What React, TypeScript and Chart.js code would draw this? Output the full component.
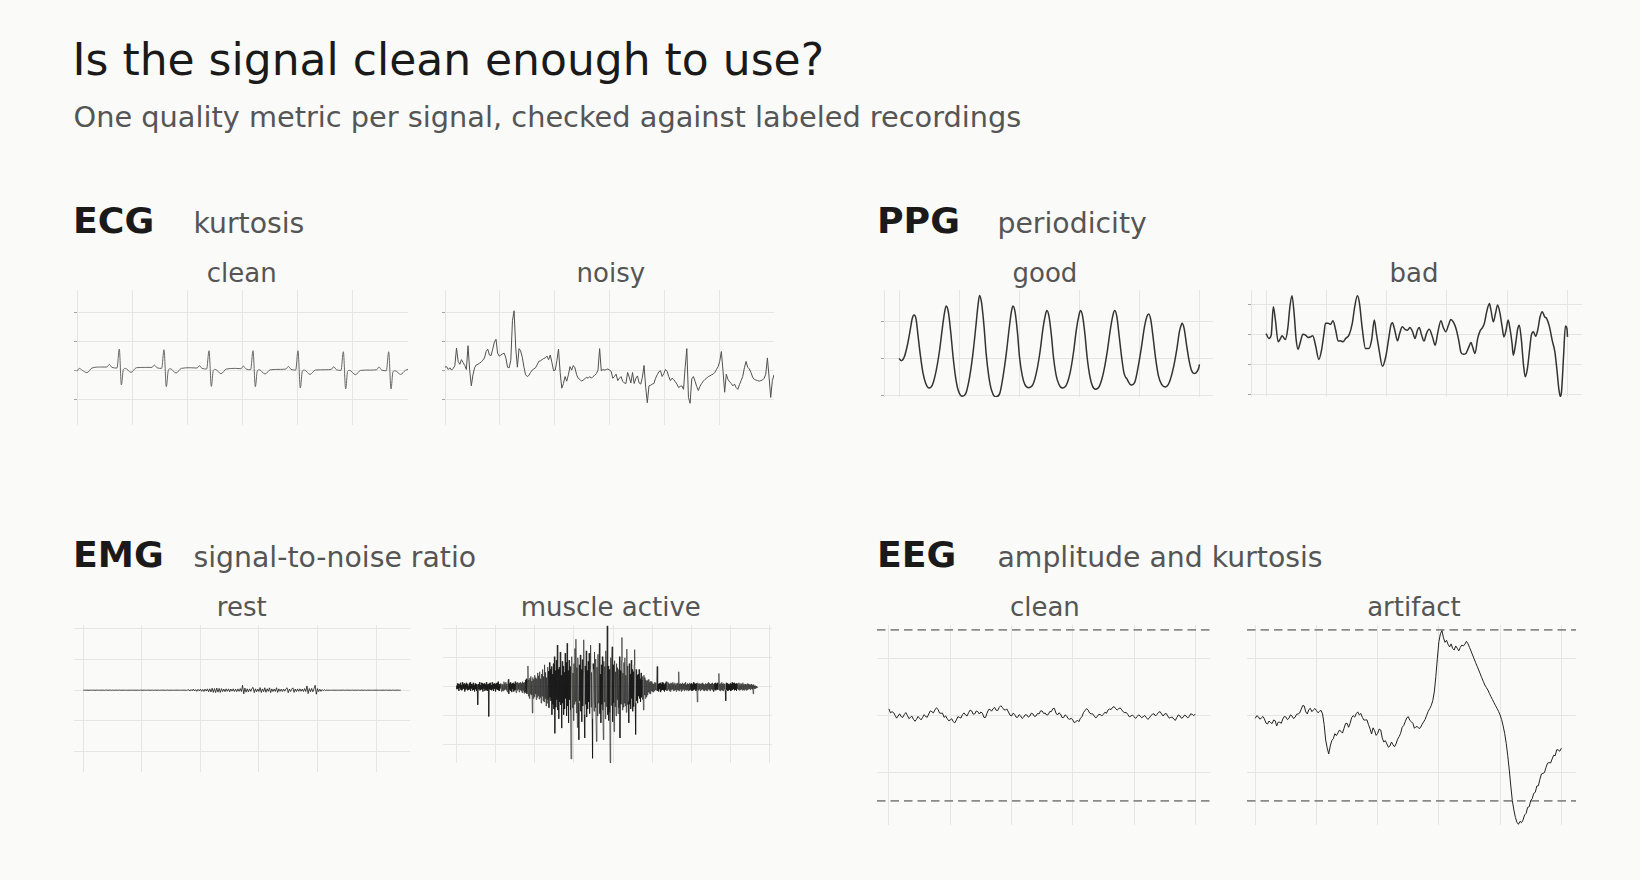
import React, { useEffect, useRef } from "react";
import { Chart, registerables } from "chart.js";

Chart.register(...registerables);

// ---------------- data ----------------
// ECG clean: sample time (s) and amplitude (mV)
const ecgCleanTime = [0, 0.042, 0.097, 0.181, 0.272, 0.423, 0.544, 0.586, 0.634, 0.725, 0.767, 0.804, 0.84, 0.876, 0.979, 1.076, 1.239, 1.36, 1.402, 1.45, 1.535, 1.577, 1.619, 1.656, 1.692, 1.795, 1.891, 2.054, 2.175, 2.218, 2.266, 2.35, 2.393, 2.435, 2.471, 2.508, 2.61, 2.707, 2.87, 2.973, 3.015, 3.063, 3.148, 3.19, 3.233, 3.269, 3.305, 3.408, 3.505, 3.686, 3.789, 3.831, 3.879, 3.964, 4.006, 4.048, 4.085, 4.121, 4.224, 4.32, 4.502, 4.61, 4.653, 4.701, 4.785, 4.828, 4.87, 4.906, 4.943, 5.045, 5.142, 5.317, 5.432, 5.474, 5.523, 5.607, 5.65, 5.692, 5.728, 5.764, 5.867, 5.952, 6.0];
const ecgCleanMv = [-0.011, 0.04, 0.006, -0.034, 0.046, 0.063, 0.063, 0.109, 0.057, 0.046, 0.371, -0.246, 0.017, 0.04, -0.029, 0.051, 0.057, 0.057, 0.097, 0.051, 0.04, 0.36, -0.274, 0.011, 0.034, -0.04, 0.04, 0.051, 0.046, 0.086, 0.04, 0.029, 0.343, -0.269, 0.006, 0.023, -0.051, 0.029, 0.04, 0.034, 0.08, 0.029, 0.017, 0.343, -0.274, 0, 0.017, -0.057, 0.017, 0.023, 0.029, 0.074, 0.023, 0.011, 0.343, -0.297, -0.006, 0.011, -0.063, 0.011, 0.017, 0.023, 0.069, 0.017, 0.006, 0.326, -0.314, -0.011, 0.006, -0.069, 0.006, 0.011, 0.017, 0.063, 0.011, 0, 0.326, -0.314, -0.017, 0, -0.063, 0.006, 0.023];

// ECG noisy: uniformly sampled every 0.03 s (mV)
const ecgNoisyDt = 0.03;
const ecgNoisyMv = [
  0.06, 0.07, 0.02, 0.05, 0.01, 0.04, 0.09, 0.39, 0.16, 0.11,
  0.19, 0.14, 0.09, 0.02, 0.43, 0.01, -0.26, -0.07, 0.05, 0.1,
  0.11, 0.13, 0.15, 0.18, 0.22, 0.33, 0.37, 0.27, 0.26, 0.37,
  0.49, 0.54, 0.3, 0.25, 0.27, 0.29, 0.3, 0.22, 0.06, 0.05,
  0.18, 0.86, 1.03, 0.39, 0.06, 0.38, 0.34, 0.23, 0.06, -0.07,
  -0.1, -0.08, -0.03, 0.01, 0.03, 0.05, 0.1, 0.16, 0.17, 0.19,
  0.21, 0.22, 0.25, 0.19, 0.27, 0.14, 0, 0.01, 0.17, 0.37,
  -0.03, -0.3, -0.22, -0.1, -0.18, -0.07, 0.07, 0.01, 0.09, 0.05,
  -0.07, -0.13, -0.15, -0.18, -0.16, -0.14, -0.11, -0.13, -0.1, -0.13,
  -0.1, -0.08, -0.05, 0.01, 0.38, 0, 0.02, 0.01, 0.02, 0.03,
  0.01, -0.01, -0.13, -0.1, -0.06, -0.17, -0.13, -0.1, -0.18, -0.21,
  -0.22, -0.03, -0.11, -0.21, -0.03, -0.22, -0.13, -0.09, -0.21, -0.23,
  -0.11, 0.09, -0.29, -0.55, -0.26, -0.25, -0.23, -0.22, -0.13, -0.07,
  -0.02, 0, -0.1, -0.05, 0.02, -0.01, -0.1, -0.17, -0.13, -0.15,
  -0.19, -0.23, -0.29, -0.27, -0.26, -0.32, 0.06, 0.38, -0.46, -0.56,
  -0.14, -0.1, -0.18, -0.27, -0.34, -0.27, -0.22, -0.18, -0.15, -0.13,
  -0.1, -0.09, -0.07, -0.06, -0.03, 0.02, 0.07, 0.16, 0.33, 0,
  -0.37, -0.06, -0.15, -0.19, -0.22, -0.26, -0.23, -0.29, -0.32, -0.24,
  -0.17, -0.1, 0.05, 0.16, 0.06, 0.03, -0.03, -0.11, -0.15, -0.16,
  -0.17, -0.18, -0.17, -0.16, -0.13, -0.06, 0.22, -0.11, -0.46, -0.17,
  -0.07,
];

// PPG good / bad: time (s) and normalised amplitude
const ppgGoodTime = [0, 0.08, 0.17, 0.28, 0.38, 0.44, 0.5, 0.57, 0.63, 0.71, 0.8, 0.89, 1.0, 1.11, 1.24, 1.35, 1.44, 1.52, 1.57, 1.64, 1.72, 1.8, 1.88, 1.97, 2.1, 2.22, 2.35, 2.46, 2.55, 2.63, 2.68, 2.75, 2.83, 2.9, 2.99, 3.08, 3.22, 3.35, 3.46, 3.57, 3.66, 3.74, 3.79, 3.86, 3.94, 4.01, 4.1, 4.19, 4.32, 4.46, 4.59, 4.7, 4.79, 4.87, 4.92, 4.99, 5.07, 5.14, 5.23, 5.32, 5.43, 5.57, 5.7, 5.81, 5.9, 5.99, 6.04, 6.11, 6.19, 6.26, 6.35, 6.44, 6.54, 6.67, 6.81, 6.93, 7.03, 7.12, 7.18, 7.25, 7.33, 7.41, 7.49, 7.58, 7.73, 7.85, 7.96, 8.07, 8.17, 8.25, 8.31, 8.38, 8.46, 8.54, 8.63, 8.74, 8.87, 9.0, 9.14, 9.25, 9.33, 9.39, 9.42, 9.49, 9.57, 9.65, 9.73, 9.82, 9.89, 9.97, 10.0];
const ppgGoodAmp = [0, -0.06, 0.03, 0.36, 0.8, 1.07, 1.16, 1.04, 0.63, 0.09, -0.4, -0.67, -0.79, -0.71, -0.31, 0.22, 0.8, 1.25, 1.4, 1.25, 0.71, 0.04, -0.49, -0.85, -1.01, -0.94, -0.49, 0.13, 0.8, 1.43, 1.68, 1.47, 0.85, 0.13, -0.49, -0.85, -1.03, -0.94, -0.49, 0.13, 0.76, 1.25, 1.4, 1.25, 0.71, 0.04, -0.45, -0.7, -0.78, -0.69, -0.31, 0.22, 0.8, 1.16, 1.28, 1.13, 0.63, 0.04, -0.45, -0.69, -0.79, -0.71, -0.36, 0.18, 0.76, 1.16, 1.28, 1.13, 0.63, 0.04, -0.47, -0.74, -0.82, -0.74, -0.36, 0.18, 0.76, 1.16, 1.28, 1.12, 0.58, 0.03, -0.4, -0.54, -0.71, -0.63, -0.22, 0.31, 0.85, 1.12, 1.19, 1.03, 0.54, 0.0, -0.45, -0.69, -0.76, -0.63, -0.22, 0.27, 0.71, 0.89, 0.94, 0.8, 0.36, -0.04, -0.31, -0.4, -0.38, -0.27, -0.16];
const ppgBadTime = [0, 0.09, 0.17, 0.24, 0.31, 0.4, 0.48, 0.53, 0.6, 0.64, 0.72, 0.79, 0.86, 0.93, 1.0, 1.06, 1.14, 1.22, 1.31, 1.4, 1.47, 1.55, 1.64, 1.75, 1.84, 1.92, 1.97, 2.06, 2.14, 2.22, 2.31, 2.39, 2.47, 2.55, 2.64, 2.75, 2.86, 2.94, 3.03, 3.1, 3.19, 3.3, 3.41, 3.5, 3.59, 3.66, 3.75, 3.86, 3.97, 4.06, 4.14, 4.19, 4.27, 4.36, 4.43, 4.52, 4.61, 4.69, 4.77, 4.86, 4.94, 5.02, 5.08, 5.16, 5.24, 5.32, 5.41, 5.52, 5.61, 5.69, 5.8, 5.88, 5.96, 6.05, 6.13, 6.21, 6.3, 6.39, 6.46, 6.54, 6.63, 6.72, 6.8, 6.85, 6.93, 7.02, 7.1, 7.18, 7.24, 7.32, 7.41, 7.46, 7.54, 7.61, 7.68, 7.76, 7.83, 7.89, 7.96, 8.03, 8.09, 8.16, 8.2, 8.27, 8.35, 8.4, 8.47, 8.54, 8.6, 8.67, 8.74, 8.8, 8.87, 8.94, 9.01, 9.09, 9.16, 9.24, 9.31, 9.4, 9.49, 9.58, 9.65, 9.71, 9.76, 9.8, 9.87, 9.93, 9.98, 10.0];
const ppgBadAmp = [0.03, -0.13, -0.02, 0.92, 0.48, -0.24, -0.13, -0.04, -0.13, -0.17, 0.2, 0.92, 1.29, 0.7, -0.19, -0.49, -0.24, 0.01, -0.02, -0.1, -0.08, -0.04, -0.36, -0.83, -0.52, 0.03, 0.37, 0.37, 0.34, 0.46, 0.14, -0.22, -0.21, -0.24, -0.13, -0.02, 0.37, 0.92, 1.29, 1.03, 0.2, -0.47, -0.47, -0.19, 0.48, 0.03, -0.52, -1.06, -0.74, -0.19, 0.31, 0.39, 0.14, -0.21, 0.03, 0.26, 0.17, 0.14, 0.23, 0.09, -0.13, 0.14, 0.23, -0.02, -0.22, 0.03, 0.17, -0.08, -0.36, 0.03, 0.46, 0.23, 0.09, 0.31, 0.5, 0.42, 0.2, -0.19, -0.58, -0.66, -0.63, -0.43, -0.27, -0.41, -0.63, -0.13, 0.12, 0.23, 0.37, 0.76, 1.03, 0.81, 0.42, 0.7, 0.98, 0.7, 0.26, -0.08, 0.14, 0.48, 0.2, -0.3, -0.69, -0.36, 0.2, 0.31, -0.19, -1.02, -1.41, -1.13, -0.52, -0.02, 0.09, -0.06, 0.14, 0.59, 0.76, 0.59, 0.53, 0.26, -0.19, -0.58, -1.19, -1.8, -2.06, -1.91, -0.69, 0.28, 0.2, -0.08];

// EMG rest: every 0.02 s (mV)
const emgRestDt = 0.02;
const emgRestMv = [
  0, 0.002, -0.002, 0.001, 0, -0.002, 0.002, 0, -0.001, 0.002,
  -0.002, 0, 0.002, -0.001, 0.001, -0.002, 0.002, 0, -0.002, 0.001,
  0.002, -0.001, 0, 0.002, -0.002, 0.001, 0, -0.002, 0.002, -0.001,
  0, 0.002, -0.002, 0.001, 0, -0.001, 0.002, -0.002, 0, 0.001,
  -0.002, 0.002, 0, -0.001, 0.002, -0.002, 0.001, 0, -0.002, 0.002,
  0, -0.001, 0.002, -0.002, 0.001, 0, 0.002, -0.002, 0, 0.001,
  -0.002, 0.002, -0.001, 0, 0.002, -0.002, 0.001, -0.001, 0.002, 0,
  -0.002, 0.001, 0.002, -0.002, 0, 0.001, -0.002, 0.002, -0.001, 0,
  0.002, -0.002, 0.001, 0, -0.002, 0.002, -0.001, 0.001, -0.003, 0.003,
  0.008, -0.014, 0.011, -0.01, 0.019, -0.013, 0.01, -0.018, 0.014, -0.011,
  0.016, -0.019, 0.013, -0.022, 0.018, -0.014, 0.021, -0.026, 0.022, -0.029,
  0.032, -0.035, 0.027, -0.038, 0.035, -0.032, 0.029, -0.037, 0.026, -0.022,
  0.019, -0.024, 0.022, -0.018, 0.021, -0.026, 0.019, -0.016, 0.022, -0.021,
  0.018, -0.024, 0.021, -0.019, 0.026, -0.022, 0.08, -0.06, 0.035, -0.032,
  0.022, -0.027, 0.021, -0.019, 0.029, 0.045, -0.04, 0.022, -0.026, 0.019,
  -0.022, 0.042, -0.038, 0.021, -0.024, 0.04, -0.035, 0.022, -0.019, 0.038,
  -0.04, 0.021, -0.022, 0.019, -0.021, 0.04, -0.037, 0.022, -0.019, 0.018,
  -0.022, 0.019, -0.018, 0.021, 0.04, -0.042, 0.019, -0.021, 0.018, 0.038,
  -0.036, 0.019, -0.022, 0.021, -0.019, 0.022, -0.018, 0.019, -0.022, 0.026,
  -0.021, 0.07, -0.055, 0.027, -0.024, 0.029, -0.026, 0.022, 0.08, -0.065,
  0.026, -0.022, 0.016, -0.019, 0.011, -0.01, 0.008, -0.006, 0.004, -0.003,
  0.002, -0.002, 0, 0.002, -0.001, 0.001, -0.002, 0.002, 0, -0.002,
  0.001, 0, 0.002, -0.002, 0.001, -0.001, 0.002, 0, -0.002, 0.001,
  0.002, -0.002, 0, 0.001, -0.002, 0.002, -0.001, 0, 0.002, -0.002,
  0.001, 0, -0.002, 0.002, -0.001, 0.001, 0, -0.002, 0.002, 0,
  -0.001, 0.002, -0.002, 0, 0.001, -0.002, 0.002, -0.001, 0, 0.002,
  -0.002, 0.001, 0, -0.002, 0.002, -0.001, 0.001, -0.002, 0.002, 0,
  -0.001, 0,
];

// EMG muscle active: every 0.0125 s (mV)
const emgActiveDt = 0.0125;
const emgActiveMv = [
  0.02, -0.04, 0.06, -0.03, 0.05, -0.07, 0.04, -0.02, 0.07, -0.05,
  0.03, -0.06, 0.08, -0.04, 0.05, -0.03, 0.06, -0.08, 0.04, -0.05,
  0.07, -0.03, 0.05, -0.06, 0.02, -0.05, 0.06, -0.04, 0.08, -0.07,
  0.05, -0.03, 0.04, -0.06, 0.07, -0.05, 0.03, -0.08, 0.06, -0.04,
  0.05, -0.07, 0.04, 0.02, -0.31, 0.05, -0.04, 0.08, -0.06, 0.03,
  -0.05, 0.07, -0.04, 0.06, -0.08, 0.05, -0.03, 0.06, -0.07, 0.04,
  -0.05, 0.08, -0.06, 0.04, -0.07, 0.05, -0.51, 0.06, -0.04, 0.07,
  -0.05, 0.03, -0.06, 0.08, -0.04, 0.05, -0.07, 0.06, -0.03, 0.05,
  -0.08, 0.06, -0.04, 0.07, -0.05, 0.09, -0.06, 0.04, -0.07, 0.05,
  -0.03, 0.06, -0.08, 0.05, -0.06, 0.04, -0.07, 0.09, -0.05, 0.06,
  -0.04, 0.08, -0.06, 0.05, -0.09, 0.07, 0.13, -0.12, 0.06, -0.05,
  0.08, -0.07, 0.05, -0.09, 0.06, -0.04, 0.07, -0.08, 0.05, -0.06,
  0.09, -0.05, -0.1, 0.07, -0.06, 0.08, -0.04, 0.06, -0.09, 0.07,
  -0.05, 0.08, -0.07, 0.06, -0.1, 0.09, -0.06, 0.07, -0.11, 0.08,
  -0.09, 0.12, -0.1, 0.14, -0.12, 0.1, 0.36, -0.16, 0.12, -0.2,
  0.15, -0.12, 0.18, -0.14, 0.1, -0.45, 0.16, -0.2, 0.13, -0.17,
  0.2, -0.12, 0.16, -0.22, 0.14, -0.18, 0.24, -0.15, 0.19, -0.21,
  0.26, -0.18, 0.14, -0.28, 0.22, -0.16, 0.3, -0.24, 0.18, -0.26,
  0.38, -0.2, 0.25, -0.33, 0.16, -0.28, 0.34, -0.22, 0.27, -0.36,
  0.42, -0.18, 0.3, -0.24, 0.35, -0.48, 0.22, -0.3, 0.4, -0.38,
  0.52, -0.8, 0.28, -0.35, 0.46, -0.22, 0.72, -0.4, 0.3, -0.55,
  0.34, -0.26, 0.6, -0.31, 0.2, -0.71, 0.44, -0.28, 0.36, -0.48,
  0.25, -0.38, 0.58, -0.2, 0.42, -0.5, 0.75, -0.33, 0.28, -0.62,
  0.46, -0.22, 0.35, -0.4, -1.24, 0.3, 0.52, -0.36, 0.24, -0.58,
  0.4, -0.3, 0.66, -0.25, 0.82, -0.45, 0.33, -0.7, 0.5, -0.28,
  -0.91, 0.38, -0.24, 0.55, -0.42, 0.3, -0.6, 0.47, -0.33, 0.26,
  0.81, -0.48, -0.88, 0.36, -0.3, 0.62, -0.52, 0.28, -0.38, 0.44,
  -0.26, 0.58, -0.46, 0.32, 0.72, -0.35, 0.25, -0.55, -1.23, 0.4,
  0.3, -0.42, 0.6, -0.24, 0.48, -0.36, -0.94, 0.34, -0.5, 0.56,
  -0.28, 0.4, 0.75, -0.46, 0.22, -0.62, 0.38, -0.3, 0.52, -0.4,
  -0.91, 0.44, -0.26, 0.35, -0.55, 0.62, -0.34, 0.28, 1.05, -0.48,
  0.36, -0.58, 0.3, -0.44, -1.31, 0.5, -0.32, 0.42, 0.69, -0.6,
  0.38, -0.28, -0.77, 0.45, -0.34, 0.26, -0.5, 0.4, -0.22, 0.33,
  -0.46, 0.3, -0.36, 0.52, -0.88, 0.28, -0.3, 0.45, 0.85, -0.4,
  0.24, -0.35, 0.42, -0.28, 0.5, -0.33, 0.2, -0.44, 0.65, -0.3,
  0.36, -0.25, -0.62, 0.4, -0.3, 0.22, -0.38, 0.46, -0.2, 0.3,
  -0.42, 0.26, -0.34, 0.38, 0.64, -0.28, -0.82, 0.3, -0.24, 0.2,
  -0.28, 0.22, -0.16, 0.3, -0.2, 0.14, -0.26, 0.24, -0.18, 0.12,
  -0.22, 0.18, -0.4, 0.2, -0.14, 0.16, -0.2, 0.12, -0.17, 0.1,
  -0.14, 0.12, -0.09, 0.13, -0.11, 0.08, -0.12, 0.1, -0.07, 0.09,
  -0.08, 0.06, -0.09, 0.05, -0.07, 0.08, -0.05, 0.07, -0.06, 0.09,
  0.35, -0.07, 0.05, -0.08, 0.06, -0.04, 0.07, -0.09, 0.05, -0.06,
  0.08, -0.05, 0.07, -0.06, 0.04, -0.08, 0.06, -0.05, 0.09, -0.07,
  0.05, -0.06, 0.08, -0.04, 0.06, -0.07, 0.05, -0.08, 0.07, -0.05,
  0.06, -0.04, 0.08, -0.07, 0.05, -0.06, 0.07, -0.05, 0.04, -0.08,
  0.06, -0.05, 0.07, -0.06, 0.26, -0.07, 0.05, -0.04, 0.06, -0.08,
  0.05, -0.06, 0.07, -0.04, 0.05, -0.07, 0.06, -0.05, 0.08, -0.06,
  0.04, -0.05, 0.06, -0.07, 0.05, -0.04, 0.07, -0.06, 0.05, -0.05,
  0.06, -0.07, 0.04, -0.06, 0.08, -0.05, 0.06, -0.04, 0.05, -0.07,
  0.06, -0.05, -0.26, 0.07, -0.06, 0.05, -0.04, 0.06, -0.07, 0.05,
  -0.05, 0.06, -0.04, 0.07, -0.06, 0.05, -0.07, 0.04, -0.05, 0.06,
  -0.06, 0.05, -0.07, 0.06, -0.04, 0.08, -0.05, 0.06, -0.07, 0.05,
  -0.04, 0.06, -0.05, 0.07, -0.06, 0.05, -0.08, 0.06, -0.05, 0.07,
  -0.06, 0.05, -0.04, 0.07, -0.05, 0.06, 0.23, -0.06, 0.05, -0.07,
  0.06, -0.05, 0.08, -0.06, 0.05, -0.07, 0.06, -0.04, 0.05, -0.06,
  -0.24, 0.07, -0.05, 0.06, -0.07, 0.05, -0.06, 0.04, -0.05, 0.06,
  -0.07, 0.05, -0.06, 0.08, -0.05, 0.06, -0.04, 0.07, -0.06, 0.05,
  -0.05, 0.06, -0.07, 0.05, -0.04, 0.06, -0.05, 0.07, -0.06, 0.04,
  -0.05, 0.06, -0.04, 0.05, -0.06, 0.07, -0.05, 0.04, -0.06, 0.05,
  -0.04, 0.05, -0.06, 0.04, -0.05, 0.06, -0.04, 0.05, -0.03, 0.04,
  -0.05, 0.04, -0.03, 0.05, -0.04, 0.03, -0.12, 0.04, -0.03, 0.02,
  -0.03, 0.02, -0.02, 0.01, -0.01, 0,
];

// EEG: every 0.05 s (µV)
const eegDt = 0.05;
const eegCleanUv = [
  5.6, 2.1, 3.2, 2.4, 0, -2.5, -0.6, 1.3, -1.2, -1.9,
  0.6, 2.4, 0, -2.9, -1.8, -0.8, -3.5, -5.2, -3.5, -1.0,
  -2.6, -4.0, -1.8, 0.6, -1.2, -1.7, 1.2, 3.9, 3.2, 2.1,
  4.7, 6.6, 5.3, 2.0, 1.8, 1.9, -1.8, -0.5, -2.9, -4.8,
  -4.1, -3.0, -5.6, -6.6, -4.1, -1.2, -1.8, -2.4, 0.6, 2.1,
  0.3, -0.6, 2.3, 4.6, 3.8, 1.0, 1.2, 3.8, 3.2, 1.1,
  2.9, 1.9, -1.8, -2.0, 1.8, 4.9, 5.3, 3.6, 5.8, 6.9,
  4.4, 4.2, 7.0, 8.4, 7.0, 5.0, 4.7, 5.5, 2.9, 0.2,
  -0.6, 1.8, 0.9, -1.6, -1.8, 0.6, -0.6, -2.8, -1.5, 0.5,
  0.3, -1.6, -0.6, 1.9, 1.2, -1.0, -0.6, 1.6, 1.2, 3.9,
  3.8, 1.6, 2.0, 0.2, 0.6, 3.3, 3.2, 5.8, 6.1, 2.0,
  0.3, 2.2, 1.2, -1.9, -2.0, 0.4, -0.6, -2.9, -3.5, -2.6,
  -4.1, -6.4, -5.8, -4.2, -5.6, -2.6, -1.2, 2.4, 4.1, 5.9,
  4.7, 2.0, 1.2, 1.3, -0.6, -2.2, -1.2, 0.9, 0.6, -0.5,
  0.9, 2.7, 1.8, 4.6, 5.6, 5.0, 7.0, 7.6, 5.8, 4.6,
  5.8, 6.5, 4.7, 3.0, 2.3, 2.4, 0.6, -1.4, -0.6, 0.2,
  -1.2, -2.7, -1.2, 0.4, -0.6, -2.1, -1.2, -0.2, -1.8, -3.6,
  -2.3, -0.3, 0.9, 1.4, -0.6, 0.8, 2.6, 3.2, 1.2, -0.6,
  1.2, 1.6, -0.6, -2.5, -1.8, -1.6, -3.5, -4.4, -1.8, 0.4,
  -0.6, -2.6, -1.8, 0.2, -0.6, -2.2, -1.2, 1.3, 0.9, -0.3,
  1.2,
];
const eegArtifactUv = [
  -2.6, -0.4, -1.2, -3.4, -2.3, -1.0, -3.2, -6.8, -7.6, -5.0,
  -6.4, -7.2, -4.1, -4.8, -9.4, -6.0, -6.1, -7.0, -3.2, -1.0,
  -1.5, -3.8, -2.6, 0.4, -0.6, -2.8, -1.8, 0.9, 1.2, 2.0,
  5.3, 8.6, 8.2, 3.0, 1.2, 5.0, 6.1, 3.2, 4.7, 6.0,
  4.1, 2.2, 3.5, 4.3, 1.2, -8.0, -21.6, -28.5, -33.9, -27.0,
  -22.2, -20.5, -16.1, -17.8, -15.5, -13.0, -14.0, -15.6, -11.4, -7.2,
  -7.0, -10.5, -7.0, -2.0, -0.3, -1.6, 1.5, 3.0, 0.3, 1.6,
  -1.8, -4.2, -4.1, -4.0, -8.2, -11.8, -16.4, -11.0, -13.5, -17.6,
  -15.8, -12.0, -12.9, -20.0, -23.4, -22.2, -25.1, -28.0, -26.9, -23.4,
  -25.7, -27.6, -25.1, -21.0, -18.7, -15.8, -10.5, -9.0, -5.6, -2.2,
  -1.2, -4.4, -5.6, -7.0, -11.4, -10.0, -9.9, -11.6, -10.8, -8.0,
  -5.8, -3.6, 0, 3.4, 5.8, 8.6, 12.9, 20.5, 33.9, 50.0,
  64.6, 71.5, 74.3, 68.0, 64.0, 65.8, 62.3, 60.0, 62.6, 58.6,
  57.3, 60.8, 58.8, 56.5, 59.6, 61.6, 60.8, 62.4, 64.9, 62.8,
  59.6, 56.4, 52.9, 49.6, 46.2, 43.0, 39.8, 36.4, 33.0, 29.8,
  26.6, 24.4, 22.2, 19.2, 16.4, 13.8, 11.1, 8.6, 6.1, 3.4,
  0.3, -3.8, -9.4, -16.0, -24.6, -35.5, -48.0, -62.0, -74.9, -83.0,
  -89.5, -93.8, -95.6, -93.0, -94.2, -91.8, -87.4, -86.0, -80.7, -80.2,
  -74.9, -73.0, -68.4, -67.5, -62.0, -61.8, -56.1, -51.5, -50.9, -50.2,
  -45.6, -42.0, -41.5, -41.8, -38.3, -35.0, -35.4, -30.2, -30.4, -31.5,
  -28.9,
];
const eegThresholdUv = [75, -75];

// tick values
const ecgTimeTicks = [0, 1, 2, 3, 4, 5, 6];
const ecgMvTicks = [-0.5, 0, 0.5, 1];
const ppgTimeTicks = [0, 2, 4, 6, 8, 10];
const ppgGoodTicks = [-1, 0, 1];
const ppgBadTicks = [-2, -1, 0, 1];
const emgRestTimeTicks = [0, 1, 2, 3, 4, 5];
const emgActiveTimeTicks = [0, 1, 2, 3, 4, 5, 6, 7, 8];
const emgMvTicks = [-1, -0.5, 0, 0.5, 1];
const eegTimeTicks = [0, 2, 4, 6, 8, 10];
const eegUvTicks = [-50, 0, 50];

// ---------------- styling / layout ----------------
const BG = "#fafaf8";
const GRID = "#e7e5e0";
const TICK = "#a4a4a0";
const FONT = "'DejaVu Sans', sans-serif";

type Pt = { x: number; y: number };
const paired = (ts: number[], vs: number[]): Pt[] => vs.map((v, i) => ({ x: ts[i], y: v }));
const sampled = (vs: number[], dt: number): Pt[] => vs.map((v, i) => ({ x: Math.round(i * dt * 10000) / 10000, y: v }));

interface PanelSpec {
  key: string;
  left: number; top: number; width: number; height: number;
  xMin: number; xMax: number; yMin: number; yMax: number;
  xTicks: number[]; yTicks: number[];
  ticks: boolean; spine: boolean;
  series: Pt[];
  color: string; lineWidth: number; smooth: boolean;
  thresholds?: number[];
}

const PANELS: PanelSpec[] = [
  { key: "ecg-clean", left: 77, top: 290, width: 331, height: 135, xMin: 0, xMax: 6, yMin: -0.933, yMax: 1.387,
    xTicks: ecgTimeTicks, yTicks: ecgMvTicks, ticks: true, spine: false,
    series: paired(ecgCleanTime, ecgCleanMv), color: "#666666", lineWidth: 1, smooth: true },
  { key: "ecg-noisy", left: 445, top: 290, width: 329, height: 135, xMin: 0, xMax: 6, yMin: -0.933, yMax: 1.387,
    xTicks: ecgTimeTicks, yTicks: ecgMvTicks, ticks: true, spine: false,
    series: sampled(ecgNoisyMv, ecgNoisyDt), color: "#505050", lineWidth: 1, smooth: false },
  { key: "ppg-good", left: 884, top: 290, width: 329, height: 107, xMin: -0.5, xMax: 10.45, yMin: -1.03, yMax: 1.83,
    xTicks: ppgTimeTicks, yTicks: ppgGoodTicks, ticks: true, spine: true,
    series: paired(ppgGoodTime, ppgGoodAmp), color: "#333333", lineWidth: 1.5, smooth: true },
  { key: "ppg-bad", left: 1251, top: 290, width: 331, height: 107, xMin: -0.5, xMax: 10.48, yMin: -2.08, yMax: 1.48,
    xTicks: ppgTimeTicks, yTicks: ppgBadTicks, ticks: true, spine: true,
    series: paired(ppgBadTime, ppgBadAmp), color: "#333333", lineWidth: 1.5, smooth: true },
  { key: "emg-rest", left: 74, top: 625, width: 336, height: 147, xMin: -0.159, xMax: 5.58, yMin: -1.33, yMax: 1.06,
    xTicks: emgRestTimeTicks, yTicks: emgMvTicks, ticks: false, spine: false,
    series: sampled(emgRestMv, emgRestDt), color: "rgba(17,17,17,0.85)", lineWidth: 0.9, smooth: false },
  { key: "emg-active", left: 443, top: 625, width: 329, height: 138, xMin: -0.343, xMax: 8.056, yMin: -1.311, yMax: 1.065,
    xTicks: emgActiveTimeTicks, yTicks: emgMvTicks, ticks: false, spine: false,
    series: sampled(emgActiveMv, emgActiveDt), color: "rgba(17,17,17,0.78)", lineWidth: 0.75, smooth: false },
  { key: "eeg-clean", left: 877, top: 625, width: 333, height: 200, xMin: -0.39, xMax: 10.48, yMin: -96.2, yMax: 79.2,
    xTicks: eegTimeTicks, yTicks: eegUvTicks, ticks: false, spine: false,
    series: sampled(eegCleanUv, eegDt), color: "#222222", lineWidth: 1, smooth: false, thresholds: eegThresholdUv },
  { key: "eeg-artifact", left: 1247, top: 625, width: 329, height: 200, xMin: -0.27, xMax: 10.48, yMin: -96.2, yMax: 79.2,
    xTicks: eegTimeTicks, yTicks: eegUvTicks, ticks: false, spine: false,
    series: sampled(eegArtifactUv, eegDt), color: "#222222", lineWidth: 1, smooth: false, thresholds: eegThresholdUv },
];

function Panel({ spec }: { spec: PanelSpec }) {
  const ref = useRef<HTMLCanvasElement | null>(null);
  const pad = spec.ticks ? 3 : 0;
  useEffect(() => {
    if (!ref.current) return;
    const datasets: any[] = [
      {
        data: spec.series,
        borderColor: spec.color,
        borderWidth: spec.lineWidth,
        pointRadius: 0,
        fill: false,
        tension: 0,
        cubicInterpolationMode: spec.smooth ? "monotone" : "default",
        order: 0,
      },
    ];
    (spec.thresholds || []).forEach((th) => {
      datasets.push({
        data: [{ x: spec.xMin, y: th }, { x: spec.xMax, y: th }],
        borderColor: "#8b8b86",
        borderWidth: 1.8,
        borderDash: [8.5, 5],
        pointRadius: 0,
        fill: false,
        order: 1,
      });
    });
    const chart = new Chart(ref.current, {
      type: "line",
      data: { datasets },
      options: {
        responsive: false,
        animation: false,
        devicePixelRatio: 1,
        events: [],
        layout: { padding: 0, autoPadding: false },
        plugins: { legend: { display: false }, tooltip: { enabled: false }, title: { display: false } },
        scales: {
          x: {
            type: "linear",
            min: spec.xMin,
            max: spec.xMax,
            grid: { color: GRID, lineWidth: 1, drawTicks: false },
            border: { display: false },
            ticks: { display: false },
            afterBuildTicks: (axis: any) => {
              axis.ticks = spec.xTicks.map((value) => ({ value }));
            },
          },
          y: {
            type: "linear",
            min: spec.yMin,
            max: spec.yMax,
            grid: { color: GRID, lineWidth: 1, drawTicks: spec.ticks, tickLength: 3, tickColor: TICK, tickWidth: 1 },
            border: { display: spec.spine, color: GRID, width: 1 },
            ticks: { display: false },
            afterBuildTicks: (axis: any) => {
              axis.ticks = spec.yTicks.map((value) => ({ value }));
            },
          },
        },
      } as any,
    });
    return () => chart.destroy();
  }, [spec]);
  return (
    <canvas
      ref={ref}
      width={spec.width + pad}
      height={spec.height}
      style={{ position: "absolute", left: spec.left - pad, top: spec.top, width: spec.width + pad, height: spec.height }}
    />
  );
}

const HEADERS = [
  { name: "ECG", metric: "kurtosis", x: 73, mx: 193.5, y: 232.5 },
  { name: "PPG", metric: "periodicity", x: 877, mx: 997.5, y: 232.5 },
  { name: "EMG", metric: "signal-to-noise ratio", x: 73, mx: 193.5, y: 566.7 },
  { name: "EEG", metric: "amplitude and kurtosis", x: 877, mx: 997.5, y: 566.7 },
];
const SUBTITLES = [
  { t: "clean", x: 241.7, y: 281.5 },
  { t: "noisy", x: 610.8, y: 281.5 },
  { t: "good", x: 1044.9, y: 281.5 },
  { t: "bad", x: 1414, y: 281.5 },
  { t: "rest", x: 241.7, y: 615.5 },
  { t: "muscle active", x: 610.8, y: 615.5 },
  { t: "clean", x: 1044.9, y: 615.5 },
  { t: "artifact", x: 1414, y: 615.5 },
];

export default function App() {
  return (
    <div style={{ position: "fixed", left: 0, top: 0, width: 1640, height: 880, background: BG, overflow: "hidden" }}>
      <svg width={1640} height={880} style={{ position: "absolute", left: 0, top: 0 }} fontFamily={FONT}>
        <text x={72.5} y={74.5} fontSize={44} fill="#1a1a1a">Is the signal clean enough to use?</text>
        <text x={73.5} y={127} fontSize={28.8} fill="#555555">One quality metric per signal, checked against labeled recordings</text>
        {HEADERS.map((h) => (
          <g key={h.name}>
            <text x={h.x} y={h.y} fontSize={36.3} fontWeight="bold" fill="#1a1a1a">{h.name}</text>
            <text x={h.mx} y={h.y} fontSize={28.3} fill="#555555">{h.metric}</text>
          </g>
        ))}
        {SUBTITLES.map((s, i) => (
          <text key={i} x={s.x} y={s.y} fontSize={26} fill="#555555" textAnchor="middle">{s.t}</text>
        ))}
      </svg>
      {PANELS.map((p) => (
        <Panel key={p.key} spec={p} />
      ))}
    </div>
  );
}
